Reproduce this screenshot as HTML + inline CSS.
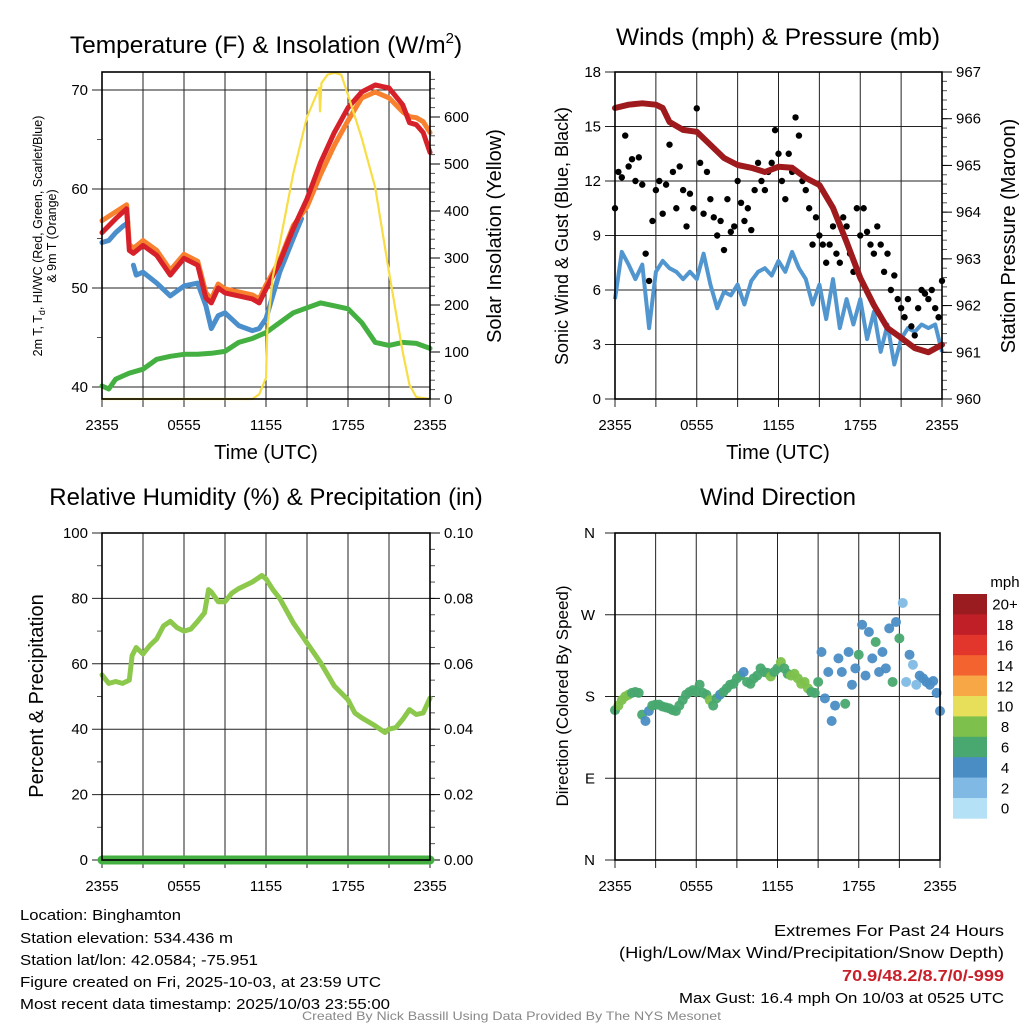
<!DOCTYPE html>
<html><head><meta charset="utf-8"><style>
html,body{margin:0;padding:0;background:#fff;}
svg{display:block;font-family:"Liberation Sans",Arial,sans-serif;}
</style></head><body>
<svg id="fig" width="1024" height="1024" viewBox="0 0 1024 1024" xmlns="http://www.w3.org/2000/svg">
<rect width="1024" height="1024" fill="#fff"/>
<text x="266" y="53" font-size="24.5" text-anchor="middle">Temperature (F) &amp; Insolation (W/m<tspan font-size="15" dy="-10">2</tspan><tspan dy="10">)</tspan></text>
<text x="778" y="45" font-size="24.5" text-anchor="middle">Winds (mph) &amp; Pressure (mb)</text>
<text x="266" y="505" font-size="24" text-anchor="middle">Relative Humidity (%) &amp; Precipitation (in)</text>
<text x="778" y="505" font-size="24" text-anchor="middle">Wind Direction</text>
<text transform="translate(42,236) rotate(-90)" font-size="12.5" text-anchor="middle">2m T, T<tspan font-size="9" dy="3">d</tspan><tspan dy="-3">, HI/WC (Red, Green, Scarlet/Blue)</tspan></text>
<text transform="translate(56,236) rotate(-90)" font-size="12.5" text-anchor="middle">&amp; 9m T (Orange)</text>
<text transform="translate(501,236) rotate(-90)" font-size="20" text-anchor="middle">Solar Insolation (Yellow)</text>
<text x="266" y="459" font-size="20" text-anchor="middle">Time (UTC)</text>
<text transform="translate(568,236) rotate(-90)" font-size="18" text-anchor="middle">Sonic Wind &amp; Gust (Blue, Black)</text>
<text transform="translate(1015,236) rotate(-90)" font-size="20" text-anchor="middle">Station Pressure (Maroon)</text>
<text x="778" y="459" font-size="20" text-anchor="middle">Time (UTC)</text>
<text transform="translate(43,696) rotate(-90)" font-size="20" text-anchor="middle">Percent &amp; Precipitation</text>
<text transform="translate(568,696) rotate(-90)" font-size="17" text-anchor="middle">Direction (Colored By Speed)</text>
<text x="1005" y="587" font-size="15" text-anchor="middle">mph</text>
<g id="footer" font-size="15">
<text x="20" y="920" textLength="161" lengthAdjust="spacingAndGlyphs">Location: Binghamton</text>
<text x="20" y="943" textLength="213" lengthAdjust="spacingAndGlyphs">Station elevation: 534.436 m</text>
<text x="20" y="965" textLength="238" lengthAdjust="spacingAndGlyphs">Station lat/lon: 42.0584; -75.951</text>
<text x="20" y="987" textLength="361" lengthAdjust="spacingAndGlyphs">Figure created on Fri, 2025-10-03, at 23:59 UTC</text>
<text x="20" y="1009" textLength="370" lengthAdjust="spacingAndGlyphs">Most recent data timestamp: 2025/10/03 23:55:00</text>
<text x="774" y="936" font-size="16" textLength="230" lengthAdjust="spacingAndGlyphs">Extremes For Past 24 Hours</text>
<text x="619" y="958" font-size="16" textLength="385" lengthAdjust="spacingAndGlyphs">(High/Low/Max Wind/Precipitation/Snow Depth)</text>
<text x="842" y="981" font-size="16" font-weight="bold" fill="#c8202a" textLength="162" lengthAdjust="spacingAndGlyphs">70.9/48.2/8.7/0/-999</text>
<text x="679" y="1003" textLength="325" lengthAdjust="spacingAndGlyphs">Max Gust: 16.4 mph On 10/03 at 0525 UTC</text>
<text x="302" y="1020" font-size="12" fill="#888" textLength="419" lengthAdjust="spacingAndGlyphs">Created By Nick Bassill Using Data Provided By The NYS Mesonet</text>
</g>
</svg>
<script>
// ---------- DATA ----------
const xTickLabels = ["2355","0555","1155","1755","2355"];
const tempTicks = [40,50,60,70];
const insolTicks = [0,100,200,300,400,500,600];
const windTicks = [0,3,6,9,12,15,18];
const presTicks = [960,961,962,963,964,965,966,967];
const rhTicks = [0,20,40,60,80,100];
const precipTickLabels = ["0.00","0.02","0.04","0.06","0.08","0.10"];
const dirTickLabels = ["N","E","S","W","N"];
const dirTickValues = [0,90,180,270,360];
const cbarLabels = ["20+","18","16","14","12","10","8","6","4","2","0"];
const cbarColors = ["#9b1c20","#c01f28","#e2352b","#f2632f","#f8a747","#e7df5a","#7dc14c","#48a86f","#4a8dc5","#80bae4","#b5e1f7"];

const tempHours = [0,1,1.8,2,2.3,3,4,5,6,7,7.6,8,8.5,9,10,11,11.5,12,13,14,15,16,17,18,19,20,21,22,22.5,23,23.5,24];
const airTemp = [55.6,57.0,58.0,53.8,53.5,54.3,53.3,51.3,53.0,52.3,49.0,48.5,50.0,49.5,49.2,48.9,48.5,49.9,52.6,56.0,59.0,62.7,65.7,68.2,69.8,70.5,70.2,68.5,66.7,66.5,65.7,63.7];
const temp9m = [56.8,57.7,58.4,54.4,54.0,54.8,53.8,51.8,53.4,52.7,49.5,48.9,50.4,49.9,49.6,49.3,48.9,50.3,52.8,56.3,58.2,61.5,64.4,66.9,69.2,69.8,69.2,67.8,67.3,67.2,66.8,65.7];
const hiwcHours = [0,0.5,1,1.5,1.9,null,2.3,2.5,3,4,5,6,7,7.6,8,8.5,9,10,11,11.5,12,13,14,14.6];
const hiwc = [54.6,54.8,55.6,56.2,56.6,null,52.3,51.3,51.6,50.5,49.2,50.2,50.5,48.2,45.9,47.2,47.5,46.2,45.7,45.9,46.9,51.6,55.0,57.0];
const dewHours = [0,0.5,1,2,3,4,5,6,7,8,9,10,11,12,13,14,15,16,17,18,19,20,21,22,23,24];
const dewpoint = [40.1,39.8,40.8,41.4,41.8,42.8,43.1,43.3,43.3,43.4,43.6,44.5,44.9,45.5,46.5,47.5,48.0,48.5,48.2,47.9,46.5,44.5,44.2,44.5,44.4,43.9];
const insolHours = [0,11,11.5,12,12.1,12.5,13,14,15,15.9,15.95,16.05,16.5,17,17.5,18,19,20,21,22,22.5,23,24];
const insolation = [0,0,10,45,150,260,330,480,600,662,612,672,690,694,690,647,555,449,270,100,30,4,0];

const windHours = [0,0.5,1,1.5,2,2.5,3,3.5,4,4.5,5,5.5,6,6.5,7,7.5,8,8.5,9,9.5,10,10.5,11,11.5,12,12.5,13,13.5,14,14.5,15,15.5,16,16.5,17,17.5,18,18.5,19,19.5,20,20.5,21,21.5,22,22.5,23,23.5,24];
const windSpeed = [5.5,8.1,7.4,6.6,7.4,3.9,7.0,7.6,7.2,7.0,6.6,7.0,6.6,8.0,6.3,5.0,5.9,5.7,6.3,5.2,6.5,7.0,7.2,6.8,7.6,7.0,8.1,7.2,6.6,5.2,6.3,4.4,6.6,3.9,5.5,4.1,5.5,3.3,4.8,2.6,4.1,1.9,3.3,3.9,3.7,4.1,3.9,4.1,2.6];
const gust = [10.5,12.5,12.2,14.5,12.8,13.2,12.0,13.3,11.8,8.0,6.5,9.8,11.5,12.0,10.2,11.8,14.0,12.5,10.5,12.8,11.5,9.5,11.3,10.5,16.0,13.0,10.2,12.5,11.0,10.0,9.0,9.8,8.2,11.0,9.2,9.5,12.0,10.8,9.8,10.5,9.3,11.5,13.0,12.0,11.5,12.5,13.0,14.8,13.5,12.0,11.0,13.5,12.5,15.5,14.5,12.0,11.5,10.5,8.5,10.0,9.0,8.5,7.5,8.5,9.5,8.0,7.5,10.0,9.5,8.0,7.0,10.5,9.0,10.5,9.2,8.5,8.0,9.5,8.5,7.0,8.0,6.0,6.8,5.5,5.0,4.5,5.5,4.0,3.5,5.0,6.0,5.8,5.5,6.0,5.0,4.5,6.5];
const presHours = [0,1,2,3,3.5,4,5,6,7,8,9,10,11,12,13,14,15,16,17,18,19,20,21,22,23,24];
const pressure = [966.23,966.3,966.33,966.3,966.23,965.93,965.76,965.72,965.44,965.16,965.01,964.95,964.86,964.97,964.95,964.73,964.58,964.09,963.36,962.59,962.01,961.52,961.31,961.09,961.0,961.16];

const rhHours = [0,0.5,1,1.5,2,2.2,2.5,3,3.5,4,4.5,5,5.5,6,6.5,7,7.5,7.8,8,8.5,9,9.5,10,11,11.7,12,12.5,13,14,15,16,17,18,18.5,19,20,20.7,21,21.5,22,22.5,23,23.5,24];
const rh = [56.6,54,54.6,54,55,62.5,65,63,65.6,67.6,71.6,73,71,70,70.6,73,75.6,82.7,82,79,79,81.6,83,85,87,86,82.7,80,72.5,66.4,60.3,53.2,49,45,43.5,41,39,40,40.5,43,46,44.5,45,49.5];
const precip = [0,0];
const precipHours = [0,24];

const direction = [165,170,176,180,182,184,185,184,160,153,164,170,171,171,169,168,167,165,164,170,176,182,185,187,185,193,184,182,176,170,178,182,185,189,193,194,200,203,207,196,194,200,203,211,207,206,202,207,211,218,211,205,203,205,200,194,196,189,185,184,196,229,178,207,153,170,222,207,172,229,193,211,226,259,203,251,222,240,207,229,211,255,196,262,244,283,196,226,215,193,203,200,196,193,197,184,164];
const dirSpeed = [7,8.5,9,8.5,9,7,7,6.5,7, 5,5,7,
 7,7,6.5,7,7,7,7,6.5,7,7,7,7,7,7,7,7,8.5,7,7,5,7,7,7,7,
 7,7,5,7,7,7,7,7,7,7,8.5,7,7,8.5,7,7,8.5,9,8.5,8.5,9,9,7,7,
 7,5,5,5,5,5,5,5,7,5,5,5,7,5,5,5,5,7,5,5,5,5,7,5,
 7,3,3,5,3,3,5,5,5,5,5,5,5];

// ---------- HELPERS ----------
const svg = document.getElementById('fig');
const NS = 'http://www.w3.org/2000/svg';
function mk(tag, attrs, parent){const e=document.createElementNS(NS,tag);for(const k in attrs)e.setAttribute(k,attrs[k]);(parent||svg).appendChild(e);return e;}
function txt(x,y,s,size,anchor,parent){const t=mk('text',{x:x,y:y,'font-size':size,'text-anchor':anchor},parent);t.textContent=s;return t;}
function linScale(d0,d1,r0,r1){return v=>r0+(v-d0)*(r1-r0)/(d1-d0);}
function linePath(xs,ys,sx,sy){let d='',pen=false;for(let i=0;i<xs.length;i++){if(xs[i]===null||ys[i]===null){pen=false;continue;}d+=(pen?'L':'M')+sx(xs[i]).toFixed(1)+','+sy(ys[i]).toFixed(1);pen=true;}return d;}

function frame(L,T,R,B,name){
  const g=mk('g',{});
  
  
  const sx=linScale(0,24,L,R);
  for(let h=0;h<=24;h+=3){const x=sx(h);const ln=mk('line',{x1:x,y1:T,x2:x,y2:B+8,stroke:'#222','stroke-width':1},g);
    
    }
  xTickLabels.forEach((s,i)=>{const t=txt(sx(i*6),B+31,s,15,'middle',g);
    
    });
  return {g,sx};
}
function hGrid(g,L,R,y){mk('line',{x1:L-10,y1:y,x2:R,y2:y,stroke:'#222','stroke-width':1},g);}
function border(g,L,T,R,B){const r=mk('rect',{x:L,y:T,width:R-L,height:B-T,fill:'none',stroke:'#000','stroke-width':1.6},g);
  
  }
function rightTicks(g,R,vals,sy,labels,minorStep,lo,hi){
  for(let v=lo;v<=hi+1e-9;v+=minorStep){mk('line',{x1:R,y1:sy(v),x2:R+5,y2:sy(v),stroke:'#555','stroke-width':1},g);}
  vals.forEach((v,i)=>{mk('line',{x1:R,y1:sy(v),x2:R+10,y2:sy(v),stroke:'#000','stroke-width':1},g);
    const t=txt(R+14,sy(v)+5,labels[i],15,'start',g);
    
    });
}
function leftLabels(g,L,vals,sy,labels){
  vals.forEach((v,i)=>{const t=txt(L-14,sy(v)+5,labels[i],15,'end',g);
    
    });
}

// ---------- PANEL 1: Temperature ----------
(function(){
  const L=102,T=72,R=430,B=399;
  const {g,sx}=frame(L,T,R,B,'temperature-panel');
  const sy=linScale(70,60,90,189);
  const si=linScale(0,600,399,117);
  tempTicks.forEach(v=>hGrid(g,L,R,sy(v)));
  [45,55,65].forEach(v=>mk('line',{x1:L-5,y1:sy(v),x2:L,y2:sy(v),stroke:'#555'},g));
  leftLabels(g,L,tempTicks,sy,tempTicks.map(String));
  rightTicks(g,R,insolTicks,si,insolTicks.map(String),20,0,680);
  const series=[[dewHours,dewpoint,'#44b041','dewpoint-line',sy],[hiwcHours,hiwc,'#4a8fcc','heat-index-windchill-line',sy],[tempHours,temp9m,'#f7812e','temp-9m-line',sy],[tempHours,airTemp,'#d7212a','air-temp-line',sy]];
  series.forEach(s=>{const p=mk('path',{d:linePath(s[0],s[1],sx,s[4]),fill:'none',stroke:s[2],'stroke-width':5,'stroke-linejoin':'round','stroke-linecap':'round'},g);
    
    });
  const ip=mk('path',{d:linePath(insolHours,insolation,sx,si),fill:'none',stroke:'#f8dd45','stroke-width':2.2,'stroke-linejoin':'round'},g);
  
  
  border(g,L,T,R,B);
})();

// ---------- PANEL 2: Winds & Pressure ----------
(function(){
  const L=615,T=72,R=942,B=399;
  const {g,sx}=frame(L,T,R,B,'winds-panel');
  const sy=linScale(0,18,399,72);
  const sp=linScale(960,967,399,72);
  windTicks.forEach(v=>hGrid(g,L,R,sy(v)));
  leftLabels(g,L,windTicks,sy,windTicks.map(String));
  rightTicks(g,R,presTicks,sp,presTicks.map(String),0.2,960,967);
  const wp=mk('path',{d:linePath(windHours,windSpeed,sx,sy),fill:'none',stroke:'#5296d0','stroke-width':4,'stroke-linejoin':'round'},g);
  
  
  gust.forEach((v,i)=>{const c=mk('circle',{cx:sx(i*0.25),cy:sy(v),r:3.2,fill:'#000'},g);
    
    });
  const pp=mk('path',{d:linePath(presHours,pressure,sx,sp),fill:'none',stroke:'#9e1a1d','stroke-width':6,'stroke-linejoin':'round','stroke-linecap':'round'},g);
  
  
  border(g,L,T,R,B);
})();

// ---------- PANEL 3: RH & Precip ----------
(function(){
  const L=102,T=533,R=430,B=860;
  const {g,sx}=frame(L,T,R,B,'humidity-panel');
  const sy=linScale(0,100,860,533);
  const spr=linScale(0,0.1,860,533);
  rhTicks.forEach(v=>hGrid(g,L,R,sy(v)));
  [10,30,50,70,90].forEach(v=>mk('line',{x1:L-5,y1:sy(v),x2:L,y2:sy(v),stroke:'#555'},g));
  leftLabels(g,L,rhTicks,sy,rhTicks.map(String));
  rightTicks(g,R,[0,0.02,0.04,0.06,0.08,0.1],spr,precipTickLabels,0.005,0,0.1);
  const rp=mk('path',{d:linePath(rhHours,rh,sx,sy),fill:'none',stroke:'#8cc84b','stroke-width':5,'stroke-linejoin':'round','stroke-linecap':'round'},g);
  
  
  const pr=mk('path',{d:linePath(precipHours,precip,sx,spr),fill:'none',stroke:'#44b041','stroke-width':9,'stroke-linecap':'round'},g);
  
  
  border(g,L,T,R,B);
})();

// ---------- PANEL 4: Wind direction ----------
(function(){
  const L=615,T=533,R=940,B=860;
  const {g,sx}=frame(L,T,R,B,'wind-direction-panel');
  const sy=linScale(0,360,860,533);
  dirTickValues.forEach(v=>hGrid(g,L,R,sy(v)));
  leftLabels(g,L-6,dirTickValues,sy,dirTickLabels);
  direction.forEach((d,i)=>{const h=i*0.25;const v=dirSpeed[i];
    const bin=Math.min(10,Math.floor(v/2));const col=cbarColors[10-bin];
    const c=mk('circle',{cx:sx(h),cy:sy(d),r:5,fill:col,'fill-opacity':0.95},g);
    
    });
  border(g,L,T,R,B);
  const cb=mk('g',{});
  
  
  const top=594,hgt=20.4;
  cbarColors.forEach((c,i)=>{const r=mk('rect',{x:953,y:top+i*hgt,width:34,height:hgt+0.3,fill:c},cb);
    
    
    const t=txt(1005,top+i*hgt+hgt/2+5.5,cbarLabels[i],15,'middle',cb);
    
    });
})();
</script>
</body></html>
